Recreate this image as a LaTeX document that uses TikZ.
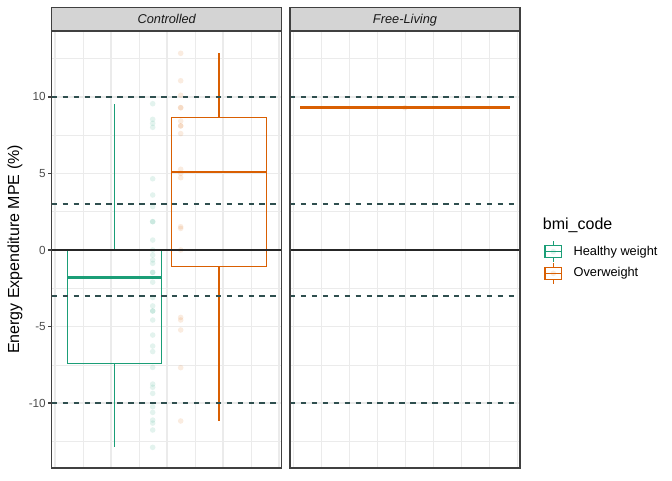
\documentclass[tikz,border=0pt]{standalone}
\usepackage{fontspec}
\setmainfont{Liberation Sans}
\definecolor{hgreen}{HTML}{1B9E77}
\definecolor{oworange}{HTML}{D95F02}
\definecolor{refdash}{HTML}{2F4F4F}
% data value -> pixel row
\newcommand{\vy}[1]{250-15.32*(#1)}
\begin{document}
\begin{tikzpicture}[x=0.75pt,y=-0.75pt,
        gridmajor/.style={draw=black!8,line width=1.07pt},
        gridminor/.style={draw=black!8,line width=0.53pt},
        refline/.style={draw=refdash,line width=1.07pt,dash pattern=on 4.1pt off 4.1pt},
        zeroline/.style={draw=black!85,line width=1.07pt},
        panelbox/.style={draw=black!75,line width=1.07pt},
        stripbox/.style={fill=black!17,draw=black!75,line width=1.07pt},
        boxline/.style={draw=#1,line width=1.1pt,line join=miter},
        medline/.style={draw=#1,line width=2.2pt},
        datapt/.style={fill=#1,fill opacity=0.12},
        ticklab/.style={anchor=east,inner sep=0pt,text=black!70,font=\fontsize{8.8}{10}\selectfont},
        keylab/.style={anchor=west,inner sep=0pt,font=\fontsize{9.6}{11}\selectfont}
    ]
    \useasboundingbox (0,0) rectangle (672,480);
    % panels with grid and strips
    \foreach \px/\facet [count=\n] in {51.7/Controlled,290/Free-Living}{
        \begin{scope}[shift={(\px,0)}]
            \foreach \v in {12.5,7.5,2.5,-2.5,-7.5,-12.5}
                \draw[gridminor] (0,{\vy{\v}}) -- (230,{\vy{\v}});
            \foreach \k in {0,...,3}
                \draw[gridminor] ({31.3+56*\k},31) -- ({31.3+56*\k},468);
            \foreach \v in {10,5,0,-5,-10}
                \draw[gridmajor] (0,{\vy{\v}}) -- (230,{\vy{\v}});
            \foreach \k in {0,...,4}
                \draw[gridmajor] ({3.3+56*\k},31) -- ({3.3+56*\k},468);
            \draw[stripbox] (0,7.3) rectangle (230,31);
            \node[anchor=base,inner sep=0pt,font=\fontsize{9.6}{11}\selectfont\itshape,text=black!90] (strip\n) at (115,23.3) {\facet};
        \end{scope}
    }
    % Controlled: points
    \foreach \v in {9.55,8.53,8.27,8.01,4.65,3.59,2.83,1.85,1.85,0.65,0,-0.33,-0.65,-0.87,-1.46,-1.46,-2.1,-3.1,-3.65,-3.98,-3.98,-4.57,-5.55,-6.27,-6.63,-7.66,-8.75,-8.96,-9.36,-10.23,-10.6,-11.1,-11.3,-11.75,-12.88}
        \path[datapt=hgreen] (152.7,{\vy{\v}}) circle [radius=2.8];
    \foreach \v in {12.84,11.05,10.1,9.29,9.29,8.42,8.1,8.1,7.6,5.27,5.0,4.72,1.52,1.41,0,-4.4,-4.57,-5.22,-7.68,-11.16}
        \path[datapt=oworange] (180.7,{\vy{\v}}) circle [radius=2.8];
    % Controlled: boxes
    \path[boxline=hgreen] (114.5,{\vy{9.5}}) -- (114.5,{\vy{0}})
        -- (67.3,{\vy{0}}) -- (67.3,{\vy{-7.42}}) -- (161.7,{\vy{-7.42}})
        -- (161.7,{\vy{0}}) -- (114.5,{\vy{0}})
        (114.5,{\vy{-7.42}}) -- (114.5,{\vy{-12.88}});
    \path[medline=hgreen] (67.3,{\vy{-1.78}}) -- (161.7,{\vy{-1.78}});
    \path[boxline=oworange] (219.2,{\vy{12.84}}) -- (219.2,{\vy{8.64}})
        -- (171.7,{\vy{8.64}}) -- (171.7,{\vy{-1.09}}) -- (266.7,{\vy{-1.09}})
        -- (266.7,{\vy{8.64}}) -- (219.2,{\vy{8.64}})
        (219.2,{\vy{-1.09}}) -- (219.2,{\vy{-11.16}});
    \path[medline=oworange] (171.7,{\vy{5.09}}) -- (266.7,{\vy{5.09}});
    % Free-Living: single value
    \path[datapt=oworange] (405,{\vy{9.29}}) circle [radius=2.8];
    \path[medline=oworange] (300,{\vy{9.29}}) -- (510,{\vy{9.29}});
    % reference lines and borders
    \foreach \px in {51.7,290}{
        \foreach \v in {10,3,-3,-10}
            \draw[refline] (\px,{\vy{\v}}) -- ++(230,0);
        \draw[zeroline] (\px,{\vy{0}}) -- ++(230,0);
        \draw[panelbox] (\px,31) rectangle ++(230,437);
    }
    % y axis
    \foreach \v [count=\i] in {10,5,0,-5,-10}{
        \draw[draw=black!75,line width=1.07pt] (48,{\vy{\v}}) -- (51.7,{\vy{\v}});
        \node[ticklab] (ylab\i) at (46,{\vy{\v}}) {\v};
    }
    \node[rotate=90,font=\fontsize{12}{14}\selectfont] (ytitle) at (15,249.5) {Energy Expenditure MPE (\%)};
    % legend
    \node[anchor=base west,inner sep=0pt,font=\fontsize{12}{14}\selectfont] (legtitle) at (542.7,229) {bmi\_code};
    \foreach \c/\lab/\ky [count=\i] in {hgreen/Healthy weight/251.7,oworange/Overweight/273.3}{
        \path[datapt=\c] (553.3,\ky) circle [radius=2.8];
        \path[boxline=\c] (553.3,\ky-10.5) -- (553.3,\ky-6) -- (545,\ky-6) -- (545,\ky+6)
            -- (561.7,\ky+6) -- (561.7,\ky-6) -- (553.3,\ky-6)
            (553.3,\ky+6) -- (553.3,\ky+10.5) (545,\ky) -- (561.7,\ky);
        \node[keylab] (key\i) at (573.3,\ky) {\lab};
    }
\end{tikzpicture}
\end{document}
